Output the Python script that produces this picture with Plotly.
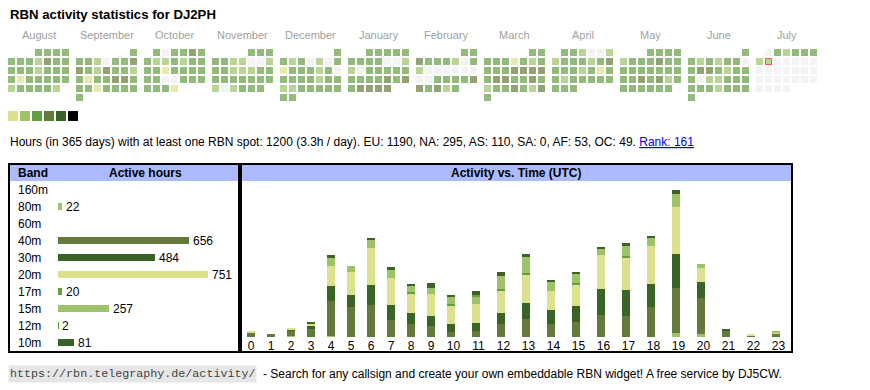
import datetime as dt
import plotly.graph_objects as go

# ---------------- data ----------------
TITLE = "RBN activity statistics for DJ2PH"
MONTHS = ["August", "September", "October", "November", "December", "January",
          "February", "March", "April", "May", "June", "July"]
MONTH_YEAR = [(2024, 8), (2024, 9), (2024, 10), (2024, 11), (2024, 12), (2025, 1),
              (2025, 2), (2025, 3), (2025, 4), (2025, 5), (2025, 6), (2025, 7)]

# daily activity level per month (0 = none, 1..5), one digit per day
LV_AUG = "3333" "3332433" "3332333" "3133333" "233332"
LV_SEP = "3" "3320334" "4324332" "3133443" "3313333" "3"
LV_OCT = "303343" "3223233" "3313333" "3300333" "3331"
LV_NOV = "333" "3322002" "3322233" "3333333" "202333"
LV_DEC = "3" "3230203" "1333230" "3333233" "2233333" "33"
LV_JAN = "33333" "3333002" "2033333" "3333434" "34444"
LV_FEB = "33" "4333203" "2000000" "0033334" "43423"
LV_MAR = "33" "3331323" "3334444" "3443343" "2334324" "3"
LV_APR = "332002" "2333234" "3332313" "3233333" "333"
LV_MAY = "3333" "2333433" "3333333" "3343423" "333333"
LV_JUN = "3" "3232330" "3443233" "3022333" "3332333" "3"
LV_JUL = "032333" "2200000" "0000000" "0000000" "0000"
MONTH_LEVELS = [LV_AUG, LV_SEP, LV_OCT, LV_NOV, LV_DEC, LV_JAN,
                LV_FEB, LV_MAR, LV_APR, LV_MAY, LV_JUN, LV_JUL]
TODAY = dt.date(2025, 7, 8)

LEVEL_COLORS = ["#eeeeee", "#dbe28b", "#9dc26a", "#649e43", "#647a3a", "#3a6427", "#000000"]
LEGEND_LEVELS = [1, 2, 3, 4, 5, 6]

SUMMARY = ("Hours (in 365 days) with at least one RBN spot: 1200 (3.3h / day). "
           "EU: 1190, NA: 295, AS: 110, SA: 0, AF: 53, OC: 49. ")
RANK_TEXT = "Rank: 161"

BANDS = ["160m", "80m", "60m", "40m", "30m", "20m", "17m", "15m", "12m", "10m"]
BAND_HOURS = [0, 22, 0, 656, 484, 751, 20, 257, 2, 81]
BAND_COLORS = ["#dbe28b", "#9dc26a", "#649e43", "#647a3a", "#3a6427",
               "#dbe28b", "#649e43", "#9dc26a", "#649e43", "#3a6427"]

HOUR_LABELS = [str(h) for h in range(24)]
HOURLY_160M = [0] * 24
HOURLY_80M = [0, 0, 2, 0, 2, 0, 0, 0, 0, 0, 0, 0, 0, 0, 0, 0, 0, 0, 0, 7, 5, 0, 0, 0]
HOURLY_60M = [0] * 24
HOURLY_40M = [7, 5, 8, 13, 58, 50, 53, 28, 22, 18, 8, 10, 22, 30, 22, 25, 37, 35, 50, 75, 60, 10, 2, 5]
HOURLY_30M = [0, 0, 2, 5, 25, 20, 33, 25, 18, 17, 13, 13, 18, 27, 23, 27, 43, 43, 38, 57, 27, 2, 0, 0]
HOURLY_20M = [2, 0, 2, 5, 33, 38, 63, 45, 33, 37, 32, 32, 38, 47, 32, 35, 57, 55, 63, 77, 23, 0, 2, 2]
HOURLY_17M = [0, 0, 0, 0, 0, 0, 0, 0, 2, 0, 2, 0, 2, 2, 0, 3, 0, 2, 0, 0, 0, 0, 0, 0]
HOURLY_15M = [0, 0, 0, 0, 13, 10, 13, 15, 10, 10, 12, 13, 22, 27, 15, 15, 10, 17, 15, 22, 7, 0, 0, 2]
HOURLY_12M = [0, 0, 0, 0, 0, 0, 0, 0, 0, 0, 0, 2, 0, 0, 0, 0, 0, 0, 0, 0, 0, 0, 0, 0]
HOURLY_10M = [0, 0, 0, 2, 5, 0, 2, 3, 2, 8, 2, 7, 7, 5, 3, 3, 2, 5, 3, 7, 0, 0, 0, 0]
HOURLY = [HOURLY_160M, HOURLY_80M, HOURLY_60M, HOURLY_40M, HOURLY_30M,
          HOURLY_20M, HOURLY_17M, HOURLY_15M, HOURLY_12M, HOURLY_10M]

# ---------------- layout constants (pixels) ----------------
W, H = 870, 390
FONT = "Liberation Sans, Arial, sans-serif"
CAL_X0, CAL_Y0, CELL, PITCH, MONTH_PITCH = 8, 49, 7, 9, 68


def py(p):
    return 1 - p / H


fig = go.Figure()

# ---- calendar ----
cx, cy, cc, cs, lw, lc = [], [], [], [], [], []
for mi, ((yy, mm), lv) in enumerate(zip(MONTH_YEAR, MONTH_LEVELS)):
    start = dt.date(yy, mm, 1)
    nxt = dt.date(yy + (mm == 12), mm % 12 + 1, 1)
    n = (nxt - start).days
    off = start.weekday()
    for d in range(n):
        k = off + d
        cx.append(CAL_X0 + mi * MONTH_PITCH + (k % 7) * PITCH + CELL / 2)
        cy.append(CAL_Y0 + (k // 7) * PITCH + CELL / 2)
        cc.append(LEVEL_COLORS[int(lv[d])])
        is_today = dt.date(yy, mm, d + 1) == TODAY
        cs.append(CELL - 1 if is_today else CELL)
        lw.append(1 if is_today else 0)
        lc.append("#ff0000" if is_today else "rgba(0,0,0,0)")

fig.add_trace(go.Scatter(
    x=cx, y=cy, mode="markers", hoverinfo="skip", showlegend=False,
    marker=dict(symbol="square", size=cs, color=cc, line=dict(width=lw, color=lc)),
    xaxis="x", yaxis="y"))

# legend squares
fig.add_trace(go.Scatter(
    x=[CAL_X0 + 5 + 12 * i for i in range(len(LEGEND_LEVELS))],
    y=[116] * len(LEGEND_LEVELS), mode="markers", hoverinfo="skip", showlegend=False,
    marker=dict(symbol="square", size=10, color=[LEVEL_COLORS[l] for l in LEGEND_LEVELS],
                line=dict(width=0)),
    xaxis="x", yaxis="y"))

# ---- band bars ----
fig.add_trace(go.Bar(
    x=BAND_HOURS, y=list(range(len(BANDS))), orientation="h", width=0.41,
    marker=dict(color=BAND_COLORS, line=dict(width=0)), hoverinfo="skip",
    showlegend=False, xaxis="x2", yaxis="y2"))

# ---- hourly stacked bars ----
col_w = [20 if len(l) == 1 else 25 for l in HOUR_LABELS]
starts = [sum(col_w[:i]) for i in range(len(col_w))]
bar_x = [s + 10 for s in starts]
lab_x = [s + w / 2 for s, w in zip(starts, col_w)]
for band, vals, col in zip(BANDS, HOURLY, BAND_COLORS):
    if sum(vals) == 0:
        continue
    fig.add_trace(go.Bar(
        x=bar_x, y=vals, width=8, name=band,
        marker=dict(color=col, line=dict(width=0)), hoverinfo="skip",
        showlegend=False, xaxis="x3", yaxis="y3"))

# ---- annotations ----
ann = []
ann.append(dict(x=8, y=14, xref="x", yref="y", text="<b>" + TITLE + "</b>", showarrow=False,
                xanchor="left", yanchor="middle", font=dict(family=FONT, size=13.2, color="#000")))
for mi, name in enumerate(MONTHS):
    ann.append(dict(x=CAL_X0 + mi * MONTH_PITCH + (7 * PITCH - 2) / 2, y=35, xref="x", yref="y",
                    text=name, showarrow=False, xanchor="center", yanchor="middle",
                    font=dict(family=FONT, size=11, color="#a0a0a0")))
ann.append(dict(x=8, y=142, xref="x", yref="y",
                text=SUMMARY + "<span style='color:#0000ee;text-decoration:underline'>"
                + RANK_TEXT + "</span>",
                showarrow=False, xanchor="left", yanchor="middle",
                font=dict(family=FONT, size=12, color="#000")))
# table headers
ann.append(dict(x=16, y=173, xref="x", yref="y", text="<b>Band</b>", showarrow=False,
                xanchor="left", yanchor="middle", font=dict(family=FONT, size=12, color="#000")))
ann.append(dict(x=145, y=173, xref="x", yref="y", text="<b>Active hours</b>", showarrow=False,
                xanchor="center", yanchor="middle", font=dict(family=FONT, size=12, color="#000")))
ann.append(dict(x=516, y=173, xref="x", yref="y", text="<b>Activity vs. Time (UTC)</b>",
                showarrow=False, xanchor="center", yanchor="middle",
                font=dict(family=FONT, size=12, color="#000")))
for i, (b, v) in enumerate(zip(BANDS, BAND_HOURS)):
    ann.append(dict(x=16, y=i, xref="x", yref="y2", text=b, showarrow=False,
                    xanchor="left", yanchor="middle", yshift=-1,
                    font=dict(family=FONT, size=12, color="#000")))
    if v > 0:
        ann.append(dict(x=v, y=i, xref="x2", yref="y2", text=str(v), showarrow=False,
                        xanchor="left", yanchor="middle", xshift=2, yshift=-1,
                        font=dict(family=FONT, size=12, color="#000")))
# footer
ann.append(dict(x=8, y=374, xref="x", yref="y", text="https://rbn.telegraphy.de/activity/",
                showarrow=False, xanchor="left", yanchor="middle", bgcolor="#e6e6e6", borderpad=1,
                font=dict(family="Liberation Mono, Courier New, monospace", size=11.7, color="#444")))
ann.append(dict(x=261, y=374, xref="x", yref="y",
                text="- Search for any callsign and create your own embeddable RBN widget! "
                     "A free service by DJ5CW.",
                showarrow=False, xanchor="left", yanchor="middle",
                font=dict(family=FONT, size=12, color="#000")))

shapes = [
    dict(type="rect", xref="x", yref="y", x0=10, x1=238, y0=165, y1=181,
         fillcolor="#aabbff", line=dict(width=0)),
    dict(type="rect", xref="x", yref="y", x0=242, x1=791, y0=165, y1=181,
         fillcolor="#aabbff", line=dict(width=0)),
    dict(type="rect", xref="x", yref="y", x0=9, x1=239, y0=164, y1=352,
         line=dict(width=2, color="#000")),
    dict(type="rect", xref="x", yref="y", x0=241, x1=792, y0=164, y1=352,
         line=dict(width=2, color="#000")),
]

hidden = dict(visible=False, showgrid=False, zeroline=False, fixedrange=True)
fig.update_layout(
    width=W, height=H, margin=dict(l=0, r=0, t=0, b=0), autosize=False,
    paper_bgcolor="white", plot_bgcolor="rgba(0,0,0,0)",
    barmode="stack", bargap=0, showlegend=False,
    xaxis=dict(domain=[0, 1], range=[0, W], **hidden),
    yaxis=dict(domain=[0, 1], range=[H, 0], **hidden),
    xaxis2=dict(domain=[58 / W, 208 / W], range=[0, 751], anchor="y2", **hidden),
    yaxis2=dict(domain=[py(350.5), py(180.5)], range=[9.5, -0.5], anchor="x2", **hidden),
    xaxis3=dict(domain=[241 / W, 791 / W], range=[0, sum(col_w)], anchor="y3",
                tickmode="array", tickvals=lab_x, ticktext=HOUR_LABELS, ticks="",
                showgrid=False, zeroline=False, showline=False, fixedrange=True,
                tickfont=dict(family=FONT, size=12, color="#000")),
    yaxis3=dict(domain=[py(337), py(187)], range=[0, 250], anchor="x3", **hidden),
    annotations=ann, shapes=shapes,
)

fig.write_html("out.html", config={"displayModeBar": False},
               post_script="document.body.style.margin='0';")
